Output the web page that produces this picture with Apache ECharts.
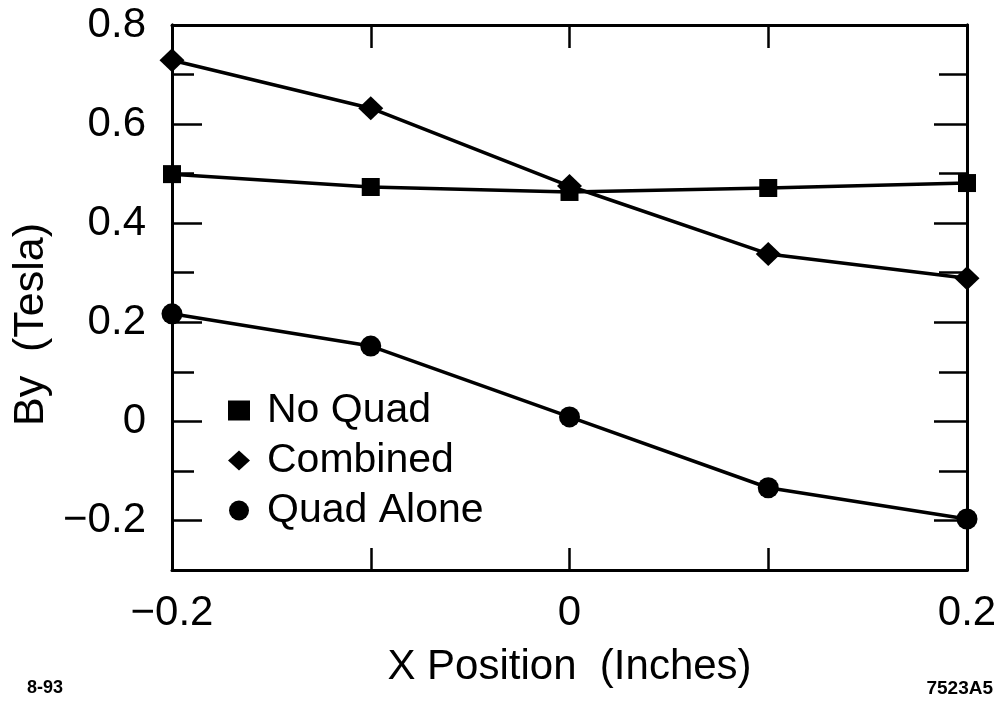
<!DOCTYPE html>
<html>
<head>
<meta charset="utf-8">
<script src="https://cdn.jsdelivr.net/npm/echarts@6/dist/echarts.min.js"></script>
<style>
html,body{margin:0;padding:0;background:#fff;}
#chart{width:1000px;height:702px;}
</style>
</head>
<body>
<div id="chart"></div>
<script>
// X positions (inches)
const xPositions = [-0.2, -0.1, 0, 0.1, 0.2];
// By (Tesla) values per series
const noQuad   = [0.499, 0.473, 0.463, 0.471, 0.481];
const combined = [0.729, 0.632, 0.475, 0.338, 0.289];
const quadAlone = [0.217, 0.152, 0.009, -0.134, -0.197];
const seriesNames = ['No Quad', 'Combined', 'Quad Alone'];
// Tick labels
const xLabelValues = [-0.2, 0, 0.2];
const yMajorValues = [-0.2, 0, 0.2, 0.4, 0.6, 0.8];
const yMinorValues = [-0.1, 0.1, 0.3, 0.5, 0.7];

const FONT = '"Liberation Sans", Arial, Helvetica, sans-serif';
const fmt = v => {
  const r = Math.round(v * 10) / 10;
  return (r === 0 ? '0' : String(r)).replace('-', '\u2212');
};
const pairs = arr => xPositions.map((x, i) => [x, arr[i]]);

const chart = echarts.init(document.getElementById('chart'), null, {renderer: 'canvas'});

const frameLine = {show: true, onZero: false, lineStyle: {color: '#000', width: 3}};
const yBase = {type: 'value', min: -0.3, max: 0.8, splitLine: {show: false}, axisLine: frameLine};

const option = {
  backgroundColor: '#fff',
  animation: false,
  grid: {left: 172, top: 25, right: 33, bottom: 132, containLabel: false},
  legend: {
    orient: 'vertical',
    left: 223,
    top: 385,
    itemWidth: 22,
    itemHeight: 20,
    itemGap: 9,
    selectedMode: false,
    textStyle: {fontFamily: FONT, fontSize: 41, color: '#000', lineHeight: 40, padding: [0, 0, 0, 12]},
    data: [
      {name: seriesNames[0], icon: 'rect', itemStyle: {color: '#000'}},
      {name: seriesNames[1], icon: 'diamond', itemStyle: {color: '#000'}},
      {name: seriesNames[2], icon: 'circle', itemStyle: {color: '#000'}}
    ]
  },
  xAxis: [
    {
      type: 'value', position: 'bottom', min: -0.2, max: 0.2, interval: 0.1,
      name: 'X Position  (Inches)', nameLocation: 'middle', nameGap: 76,
      nameTextStyle: {fontFamily: FONT, fontSize: 42, color: '#000'},
      axisLine: frameLine,
      axisTick: {show: true, inside: true, length: 22, lineStyle: {color: '#000', width: 2.5}},
      axisLabel: {show: true, customValues: xLabelValues, formatter: fmt, margin: 22,
        fontFamily: FONT, fontSize: 42, color: '#000'},
      splitLine: {show: false}
    },
    {
      type: 'value', position: 'top', min: -0.2, max: 0.2, interval: 0.1,
      axisLine: frameLine,
      axisTick: {show: true, inside: true, length: 23, lineStyle: {color: '#000', width: 2.5}},
      axisLabel: {show: false},
      splitLine: {show: false}
    }
  ],
  yAxis: [
    Object.assign({}, yBase, {
      position: 'left',
      name: 'By  (Tesla)', nameLocation: 'middle', nameGap: 118, nameRotate: 90,
      nameTextStyle: {fontFamily: FONT, fontSize: 43, color: '#000', padding: [0, 54, 0, 0]},
      axisTick: {show: true, inside: true, length: 30, customValues: yMajorValues, lineStyle: {color: '#000', width: 2.5}},
      axisLabel: {show: true, customValues: yMajorValues, formatter: fmt, margin: 26,
        fontFamily: FONT, fontSize: 42, color: '#000'}
    }),
    Object.assign({}, yBase, {
      position: 'left',
      axisTick: {show: true, inside: true, length: 22, customValues: yMinorValues, lineStyle: {color: '#000', width: 2.5}},
      axisLabel: {show: false}
    }),
    Object.assign({}, yBase, {
      position: 'right',
      axisTick: {show: true, inside: true, length: 33, customValues: yMajorValues, lineStyle: {color: '#000', width: 2.5}},
      axisLabel: {show: false}
    }),
    Object.assign({}, yBase, {
      position: 'right',
      axisTick: {show: true, inside: true, length: 28, customValues: yMinorValues, lineStyle: {color: '#000', width: 2.5}},
      axisLabel: {show: false}
    })
  ],
  series: [
    {
      name: seriesNames[0], type: 'line', xAxisIndex: 0, yAxisIndex: 0,
      data: pairs(noQuad), symbol: 'rect', symbolSize: 18,
      lineStyle: {color: '#000', width: 3.5}, itemStyle: {color: '#000'}, clip: false
    },
    {
      name: seriesNames[1], type: 'line', xAxisIndex: 0, yAxisIndex: 0,
      data: pairs(combined), symbol: 'diamond', symbolSize: [25, 24],
      lineStyle: {color: '#000', width: 3.5}, itemStyle: {color: '#000'}, clip: false
    },
    {
      name: seriesNames[2], type: 'line', xAxisIndex: 0, yAxisIndex: 0,
      data: pairs(quadAlone), symbol: 'circle', symbolSize: 21,
      lineStyle: {color: '#000', width: 3.5}, itemStyle: {color: '#000'}, clip: false
    }
  ],
  graphic: [
    {type: 'text', left: 27, top: 679, style: {text: '8-93', fontFamily: FONT, fontWeight: 'bold', fontSize: 18, fill: '#000'}},
    {type: 'text', right: 7, top: 679, style: {text: '7523A5', fontFamily: FONT, fontWeight: 'bold', fontSize: 19, fill: '#000'}}
  ]
};
chart.setOption(option);
</script>
</body>
</html>
